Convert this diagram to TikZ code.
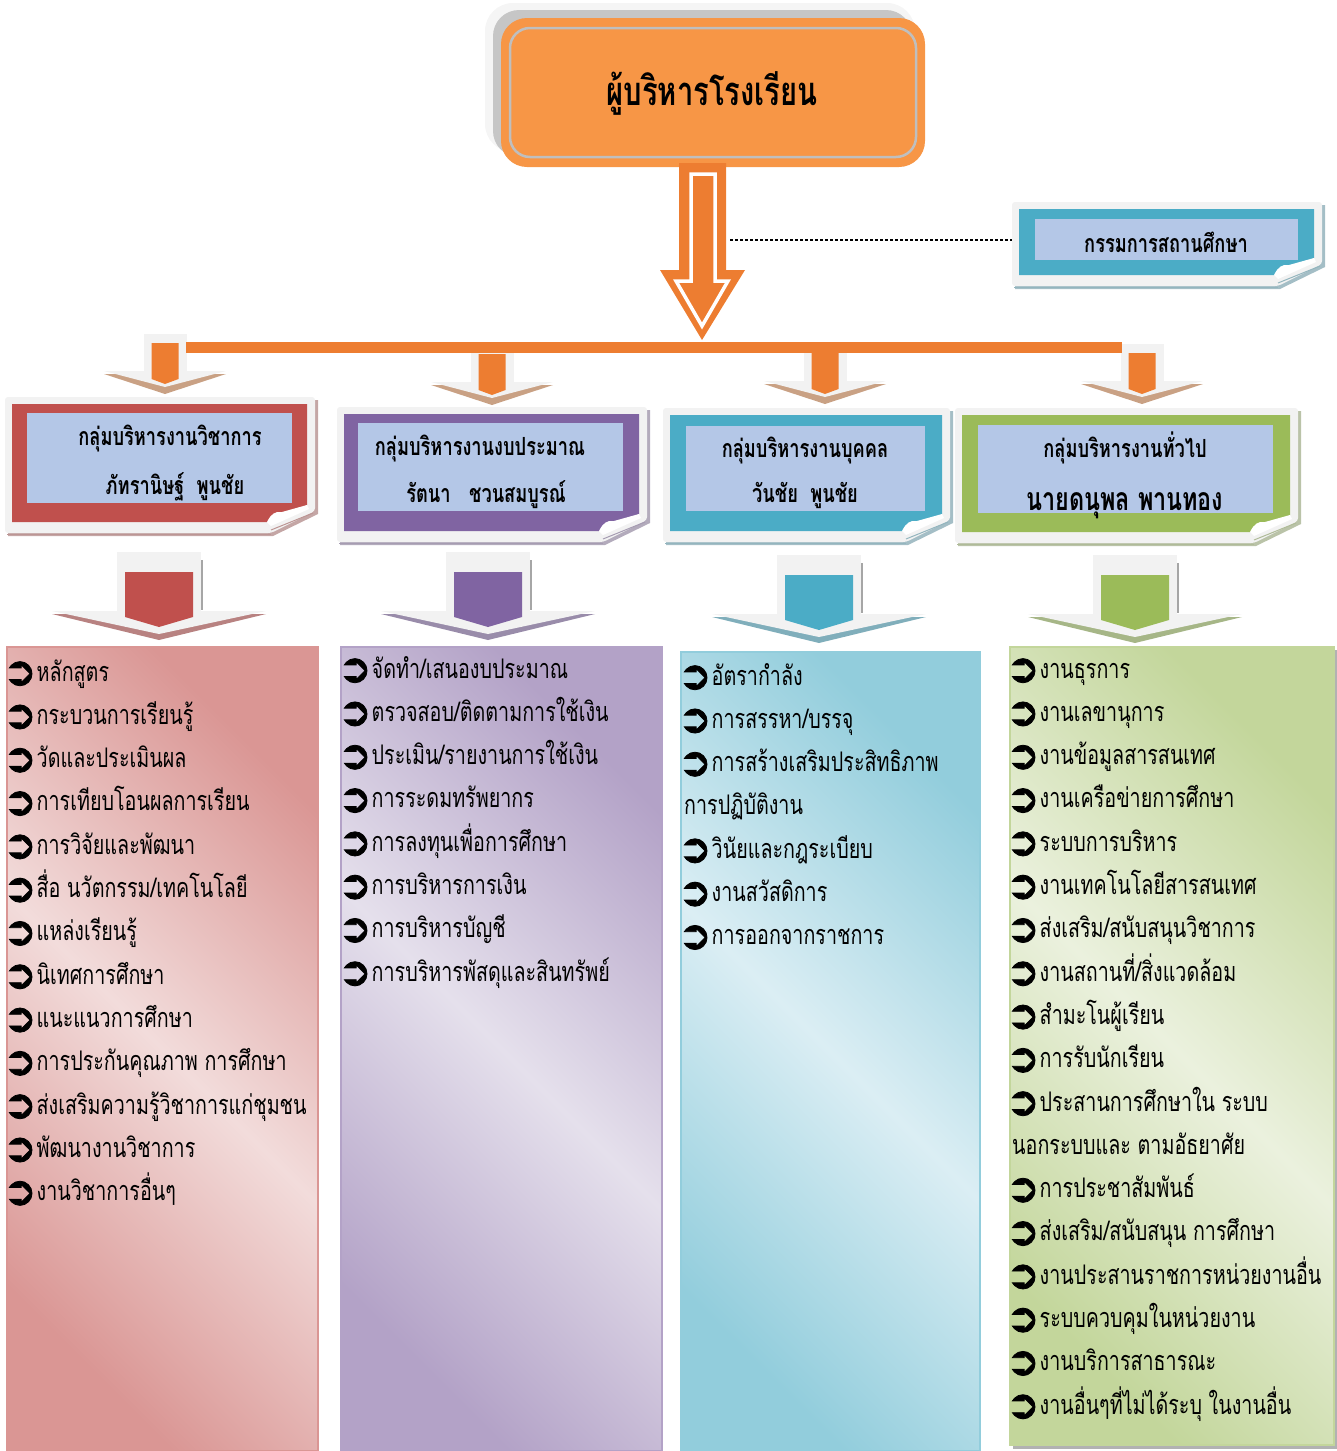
\documentclass[tikz,border=0pt]{standalone}
\usepackage{fontspec}
\newfontfamily\thai[Script=Thai,FakeStretch=0.73]{Loma}
\newfontfamily\symf[FakeBold=2]{DejaVu Sans}
\definecolor{orA}{HTML}{F79646}
\definecolor{orB}{HTML}{ED7D31}
\definecolor{blueIn}{HTML}{B4C7E7}
\definecolor{cRed}{HTML}{C0504D}
\definecolor{cPur}{HTML}{8064A2}
\definecolor{cTeal}{HTML}{4BACC6}
\definecolor{cGreen}{HTML}{9BBB59}
\definecolor{pgray}{HTML}{F2F2F2}
\definecolor{tan}{HTML}{C9A184}
\definecolor{redL}{HTML}{F2DCDB}\definecolor{redD}{HTML}{DA9694}
\definecolor{purL}{HTML}{E5E0EC}\definecolor{purD}{HTML}{B3A2C7}
\definecolor{tealL}{HTML}{DBEEF4}\definecolor{tealD}{HTML}{92CDDC}
\definecolor{grnL}{HTML}{EBF1DE}\definecolor{grnD}{HTML}{C3D69B}
\newcommand\B{\raisebox{-4pt}{\symf\fontsize{40}{40}\selectfont\symbol{"27B2}}}
\newcommand\notepage[5]{%
  \fill[#5!45!gray!60] (#1+3,#2+3) -- (#3+3,#2+3) -- (#3+3,#4-19) -- (#3-42,#4+3) -- (#1+3,#4+3) -- cycle;
  \fill[pgray,rounded corners=3] (#1,#2) -- (#3,#2) -- (#3,#4-22) -- (#3-44,#4) -- (#1,#4) -- cycle;
  \fill[#5] (#1+7,#2+7) -- (#3-8,#2+7) -- (#3-8,#4-28) -- (#3-48,#4-11) -- (#1+7,#4-11) -- cycle;
  \fill[white] (#3-48,#4-11) .. controls (#3-44,#4-19) and (#3-40,#4-22) .. (#3-33,#4-21) -- (#3-8,#4-28) -- (#3-6,#4-24) -- (#3-44,#4-7) -- cycle;
  \draw[#5!50!gray!70, line width=1] (#3-44,#4-3) -- (#3-2,#4-20);
  \draw[#5!50!gray!70, line width=1] (#1+2,#4+1) -- (#3-44,#4+1);
}
\newcommand\smallarrow[2]{% cx, top
  \fill[pgray] (#1-21.5,#2) rectangle (#1+21.5,#2+40);
  \fill[tan] (#1-61,#2+40) -- (#1+61,#2+40) -- (#1,#2+60) -- cycle;
  \fill[pgray] (#1-61,#2+37) -- (#1+61,#2+37) -- (#1,#2+53) -- cycle;
  \fill[orB] (#1-13.5,#2+9) -- (#1+13.5,#2+9) -- (#1+13.5,#2+45) -- (#1,#2+50) -- (#1-13.5,#2+45) -- cycle;
}
\newcommand\bigarrow[4]{% cx, top, color, shadow
  \fill[pgray] (#1-42,#2) rectangle (#1+42,#2+62);
  \draw[gray!70, line width=1.5] (#1+43,#2+8) -- (#1+43,#2+58);
  \fill[#4] (#1-107,#2+62) -- (#1+107,#2+62) -- (#1,#2+88) -- cycle;
  \fill[pgray] (#1-107,#2+59) -- (#1+107,#2+59) -- (#1,#2+82) -- cycle;
  \fill[#3] (#1-34,#2+20) -- (#1+34,#2+20) -- (#1+34,#2+65) -- (#1,#2+75) -- (#1-34,#2+65) -- cycle;
}
\tikzset{
  item/.style={anchor=base west, inner sep=0pt, font=\thai\fontsize{27}{30}\selectfont},
  headtxt/.style={anchor=base, inner sep=0pt, font=\thai\bfseries\fontsize{25}{28}\selectfont},
  panel/.style={line width=1.5pt}
}
% list macro: x of bullet, first baseline, name prefix, items
\newcommand\thailist[4]{%
  \foreach \b/\t [count=\i from 0] in {#4}{%
    \ifnum\b=1
      \node[item] (#3\i) at (#1-8,#2+43.3*\i) {\B\t};
    \else
      \node[item] (#3\i) at (#1-2,#2+43.3*\i) {\t};
    \fi
  }%
}
\begin{document}
\begin{tikzpicture}[x=1pt,y=-1pt]
\useasboundingbox (0,0) rectangle (1336,1451);
% ---------- title box
\fill[gray!8, rounded corners=28] (485,3) rectangle (915,152);
\fill[gray!45, rounded corners=26] (493,10) rectangle (912,157);
\fill[orA, rounded corners=26] (501,18) rectangle (925,167);
\draw[gray!50, line width=2.5pt, rounded corners=20] (510,28) rectangle (916,157);
\node[anchor=base, inner sep=0pt, font=\thai\bfseries\fontsize{40}{42}\selectfont] (title) at (712,105) {ผู้บริหารโรงเรียน};
% ---------- main arrow
\fill[orB] (679,163) -- (726,163) -- (726,270) -- (745,270) -- (702,340) -- (660,270) -- (679,270) -- cycle;
\draw[white, line width=3.5pt, line join=miter] (691,174) -- (715,174) -- (715,281) -- (728,281) -- (702,326) -- (676,281) -- (691,281) -- cycle;
% ---------- board
\notepage{1012}{202}{1322}{286}{cTeal}
\fill[blueIn] (1035,219) rectangle (1298,260);
\node[headtxt] (board) at (1166,252) {กรรมการสถานศึกษา};
\coordinate (dotA) at (730,240);
\coordinate (dotB) at (1012,240);
\draw[line width=2.6pt, dash pattern=on 2.6pt off 2.4pt] (dotA) -- (dotB);
% ---------- small arrows and bar
\smallarrow{165}{334}
\smallarrow{492}{345}
\smallarrow{825}{344}
\smallarrow{1142}{344}
\coordinate (barL) at (186,342);
\coordinate (barR) at (1122,353);
\fill[orB] (barL) rectangle (barR);
% ---------- group boxes
\notepage{5}{397}{315}{533}{cRed}
\fill[blueIn] (27,413) rectangle (292,503);
\node[headtxt] (g1a) at (170,445) {กลุ่มบริหารงานวิชาการ};
\node[headtxt] (g1b) at (175,494) {ภัทรานิษฐ์~~พูนชัย};
\notepage{337}{407}{647}{542}{cPur}
\fill[blueIn] (358,423) rectangle (623,511);
\node[headtxt] (g2a) at (480,455) {กลุ่มบริหารงานงบประมาณ};
\node[headtxt] (g2b) at (486,502) {รัตนา~~~ชวนสมบูรณ์};
\notepage{663}{408}{950}{542}{cTeal}
\fill[blueIn] (686,426) rectangle (925,511);
\node[headtxt] (g3a) at (805,457) {กลุ่มบริหารงานบุคคล};
\node[headtxt] (g3b) at (805,502) {วันชัย~~พูนชัย};
\notepage{955}{408}{1298}{543}{cGreen}
\fill[blueIn] (978,425) rectangle (1273,513);
\node[headtxt] (g4a) at (1125,457) {กลุ่มบริหารงานทั่วไป};
\node[headtxt, font=\thai\bfseries\fontsize{32}{34}\selectfont] (g4b) at (1125,510) {นายดนุพล พานทอง};
% ---------- big arrows
\bigarrow{159}{552}{cRed}{cRed!60!gray!80}
\bigarrow{488}{552}{cPur}{cPur!60!gray!80}
\bigarrow{819}{555}{cTeal}{cTeal!60!gray!80}
\bigarrow{1135}{555}{cGreen}{cGreen!60!gray!80}
% ---------- panels
\path[panel, draw=redD, top color=redD, bottom color=redD, middle color=redL, shading angle=-45] (7,647) rectangle (318,1451);
\path[panel, draw=purD, top color=purD, bottom color=purD, middle color=purL, shading angle=-45] (341,647) rectangle (662,1451);
\path[panel, draw=tealD, top color=tealD, bottom color=tealD, middle color=tealL, shading angle=-45] (681,652) rectangle (980,1451);
\fill[gray!60] (1013,650) rectangle (1337,1449);
\path[panel, draw=grnD, top color=grnD, bottom color=grnD, middle color=grnL, shading angle=-45] (1010,647) rectangle (1334,1445);
% ---------- lists
\thailist{11}{681}{pa}{1/{หลักสูตร}, 1/{กระบวนการเรียนรู้}, 1/{วัดและประเมินผล}, 1/{การเทียบโอนผลการเรียน}, 1/{การวิจัยและพัฒนา}, 1/{สื่อ นวัตกรรม/เทคโนโลยี}, 1/{แหล่งเรียนรู้}, 1/{นิเทศการศึกษา}, 1/{แนะแนวการศึกษา}, 1/{การประกันคุณภาพ การศึกษา}, 1/{ส่งเสริมความรู้วิชาการแก่ชุมชน}, 1/{พัฒนางานวิชาการ}, 1/{งานวิชาการอื่นๆ}}
\thailist{346}{678}{pb}{1/{จัดทำ/เสนองบประมาณ}, 1/{ตรวจสอบ/ติดตามการใช้เงิน}, 1/{ประเมิน/รายงานการใช้เงิน}, 1/{การระดมทรัพยากร}, 1/{การลงทุนเพื่อการศึกษา}, 1/{การบริหารการเงิน}, 1/{การบริหารบัญชี}, 1/{การบริหารพัสดุและสินทรัพย์}}
\thailist{686}{685}{pc}{1/{อัตรากำลัง}, 1/{การสรรหา/บรรจุ}, 1/{การสร้างเสริมประสิทธิภาพ}, 0/{การปฏิบัติงาน}, 1/{วินัยและกฎระเบียบ}, 1/{งานสวัสดิการ}, 1/{การออกจากราชการ}}
\thailist{1014}{678}{pd}{1/{งานธุรการ}, 1/{งานเลขานุการ}, 1/{งานข้อมูลสารสนเทศ}, 1/{งานเครือข่ายการศึกษา}, 1/{ระบบการบริหาร}, 1/{งานเทคโนโลยีสารสนเทศ}, 1/{ส่งเสริม/สนับสนุนวิชาการ}, 1/{งานสถานที่/สิ่งแวดล้อม}, 1/{สำมะโนผู้เรียน}, 1/{การรับนักเรียน}, 1/{ประสานการศึกษาใน ระบบ}, 0/{นอกระบบและ ตามอัธยาศัย}, 1/{การประชาสัมพันธ์}, 1/{ส่งเสริม/สนับสนุน การศึกษา}, 1/{งานประสานราชการหน่วยงานอื่น}, 1/{ระบบควบคุมในหน่วยงาน}, 1/{งานบริการสาธารณะ}, 1/{งานอื่นๆที่ไม่ได้ระบุ ในงานอื่น}}
\end{tikzpicture}
\end{document}
